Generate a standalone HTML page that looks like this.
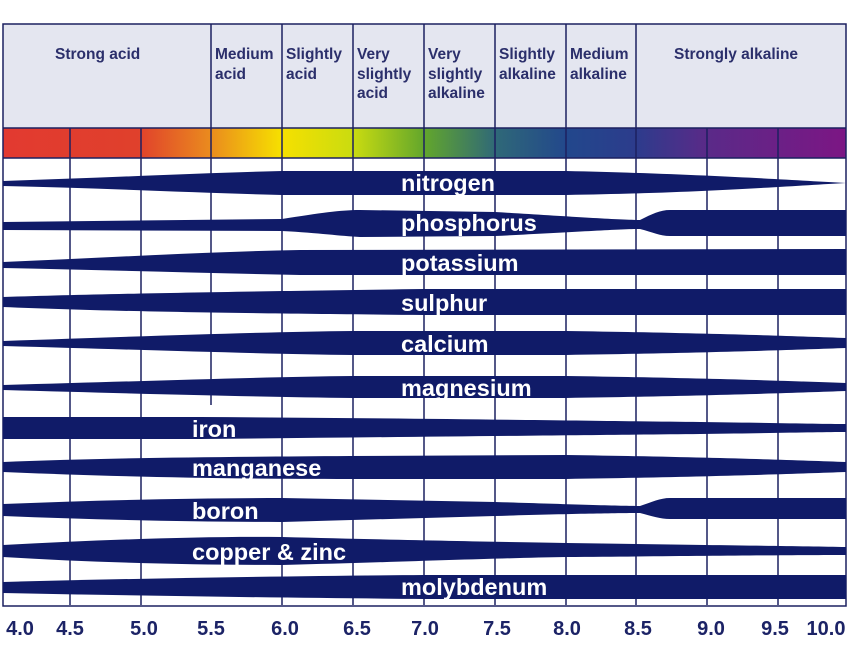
<!DOCTYPE html>
<html><head><meta charset="utf-8"><style>
html,body{margin:0;padding:0;background:#fff;}
svg{display:block;}
.h{font-family:"Liberation Sans",sans-serif;font-weight:bold;font-size:15.5px;fill:#2b2f6b;}
.b{font-family:"Liberation Sans",sans-serif;font-weight:bold;font-size:23.5px;fill:#fff;}
.a{font-family:"Liberation Sans",sans-serif;font-weight:bold;font-size:20px;fill:#1c2366;}
</style></head><body>
<svg width="850" height="656" viewBox="0 0 850 656" xmlns="http://www.w3.org/2000/svg">
<defs>
<linearGradient id="g" x1="3" x2="846" gradientUnits="userSpaceOnUse">
<stop offset="0" stop-color="#e23a30"/>
<stop offset="0.16" stop-color="#e0402c"/>
<stop offset="0.245" stop-color="#ea8a1e"/>
<stop offset="0.33" stop-color="#f6e000"/>
<stop offset="0.415" stop-color="#cadc10"/>
<stop offset="0.5" stop-color="#62a62c"/>
<stop offset="0.585" stop-color="#2f6878"/>
<stop offset="0.67" stop-color="#22478c"/>
<stop offset="0.75" stop-color="#2c3c8c"/>
<stop offset="0.835" stop-color="#5a2a88"/>
<stop offset="1" stop-color="#7c1684"/>
</linearGradient>
</defs>
<rect x="3" y="24" width="843" height="104" fill="#e4e6f0"/>
<rect x="3" y="128" width="843" height="30" fill="url(#g)"/>
<g stroke="#1c2060" stroke-width="1.5">
<line x1="211" y1="24" x2="211" y2="158"/><line x1="282" y1="24" x2="282" y2="605"/>
<line x1="353" y1="24" x2="353" y2="605"/><line x1="424" y1="24" x2="424" y2="605"/>
<line x1="495" y1="24" x2="495" y2="605"/><line x1="566" y1="24" x2="566" y2="605"/>
<line x1="636" y1="24" x2="636" y2="605"/>
<line x1="70" y1="128" x2="70" y2="605"/><line x1="141" y1="128" x2="141" y2="605"/>
<line x1="211" y1="158" x2="211" y2="405"/>
<line x1="707" y1="128" x2="707" y2="605"/><line x1="778" y1="128" x2="778" y2="605"/>
<line x1="3" y1="128" x2="846" y2="128"/><line x1="3" y1="158" x2="846" y2="158"/>
</g>
<rect x="3" y="24" width="843" height="582" fill="none" stroke="#1c2060" stroke-width="1.5"/>
<g class="h">
<text x="55" y="59">Strong acid</text>
<text x="215" y="59">Medium</text><text x="215" y="79">acid</text>
<text x="286" y="59">Slightly</text><text x="286" y="79">acid</text>
<text x="357" y="59">Very</text><text x="357" y="79">slightly</text><text x="357" y="98">acid</text>
<text x="428" y="59">Very</text><text x="428" y="79">slightly</text><text x="428" y="98">alkaline</text>
<text x="499" y="59">Slightly</text><text x="499" y="79">alkaline</text>
<text x="570" y="59">Medium</text><text x="570" y="79">alkaline</text>
<text x="674" y="59">Strongly alkaline</text>
</g>
<g fill="#101b68">
<path d="M3,181 C100,178 200,173 282,171 L566,171 C700,174 790,180 846,183 C790,186 700,193 566,195 L282,195 C200,193 100,188 3,186 Z"/>
<path d="M3,222 L282,219 C320,213 340,210 360,210 L495,212 C560,216 620,220 640,220 C652,214 660,210 670,210 L846,210 L846,236 L670,236 C660,236 652,232 640,229 C620,229 560,233 495,236 L360,237 C340,236 320,233 282,231 L3,230 Z"/>
<path d="M3,262 C100,258 200,252 300,250 L846,249 L846,275 L300,275 C200,273 100,270 3,268 Z"/>
<path d="M3,297 C100,294 200,292 424,289 L846,289 L846,315 L424,315 C200,313 100,311 3,307 Z"/>
<path d="M3,341 C150,336 260,332 353,331 L566,331 C700,333 790,336 846,338 L846,348 C790,350 700,353 566,355 L353,355 C260,354 150,350 3,346 Z"/>
<path d="M3,385 C150,381 260,377 353,376 L566,376 C700,378 790,381 846,383 L846,391 C790,393 700,396 566,398 L353,398 C260,397 150,394 3,390 Z"/>
<path d="M3,417 L200,417 C400,418 600,421 700,422 C780,423 820,424 846,424 L846,432 C820,432 780,433 700,434 C600,435 400,437 200,439 L3,439 Z"/>
<path d="M3,462 C100,458 200,457 350,456 L566,455 C700,457 790,460 846,462 L846,472 C790,474 700,477 566,479 L350,479 C200,479 100,476 3,472 Z"/>
<path d="M3,504 C100,500 200,498 282,498 L495,502 C560,504 620,506 640,506 C652,502 660,498 670,498 L846,498 L846,519 L670,519 C660,519 652,516 640,513 C620,513 560,514 495,516 L282,522 C200,522 100,520 3,516 Z"/>
<path d="M3,545 C100,540 200,536 282,537 C400,540 500,542 566,543 C700,545 790,546 846,547 L846,555 C790,555 700,556 566,557 C500,558 400,562 282,565 C200,565 100,563 3,557 Z"/>
<path d="M3,582 C150,578 300,576 424,575 L846,575 L846,599 L424,599 C300,598 150,596 3,593 Z"/>
</g>
<g class="b">
<text x="401" y="191">nitrogen</text>
<text x="401" y="231">phosphorus</text>
<text x="401" y="271">potassium</text>
<text x="401" y="311">sulphur</text>
<text x="401" y="352">calcium</text>
<text x="401" y="396">magnesium</text>
<text x="192" y="437">iron</text>
<text x="192" y="476">manganese</text>
<text x="192" y="519">boron</text>
<text x="192" y="560">copper &amp; zinc</text>
<text x="401" y="595">molybdenum</text>
</g>
<g class="a" text-anchor="middle">
<text x="20" y="635">4.0</text><text x="70" y="635">4.5</text>
<text x="144" y="635">5.0</text><text x="211" y="635">5.5</text>
<text x="285" y="635">6.0</text><text x="357" y="635">6.5</text>
<text x="425" y="635">7.0</text><text x="497" y="635">7.5</text>
<text x="567" y="635">8.0</text><text x="638" y="635">8.5</text>
<text x="711" y="635">9.0</text><text x="775" y="635">9.5</text>
<text x="826" y="635">10.0</text>
</g>
</svg>
</body></html>
